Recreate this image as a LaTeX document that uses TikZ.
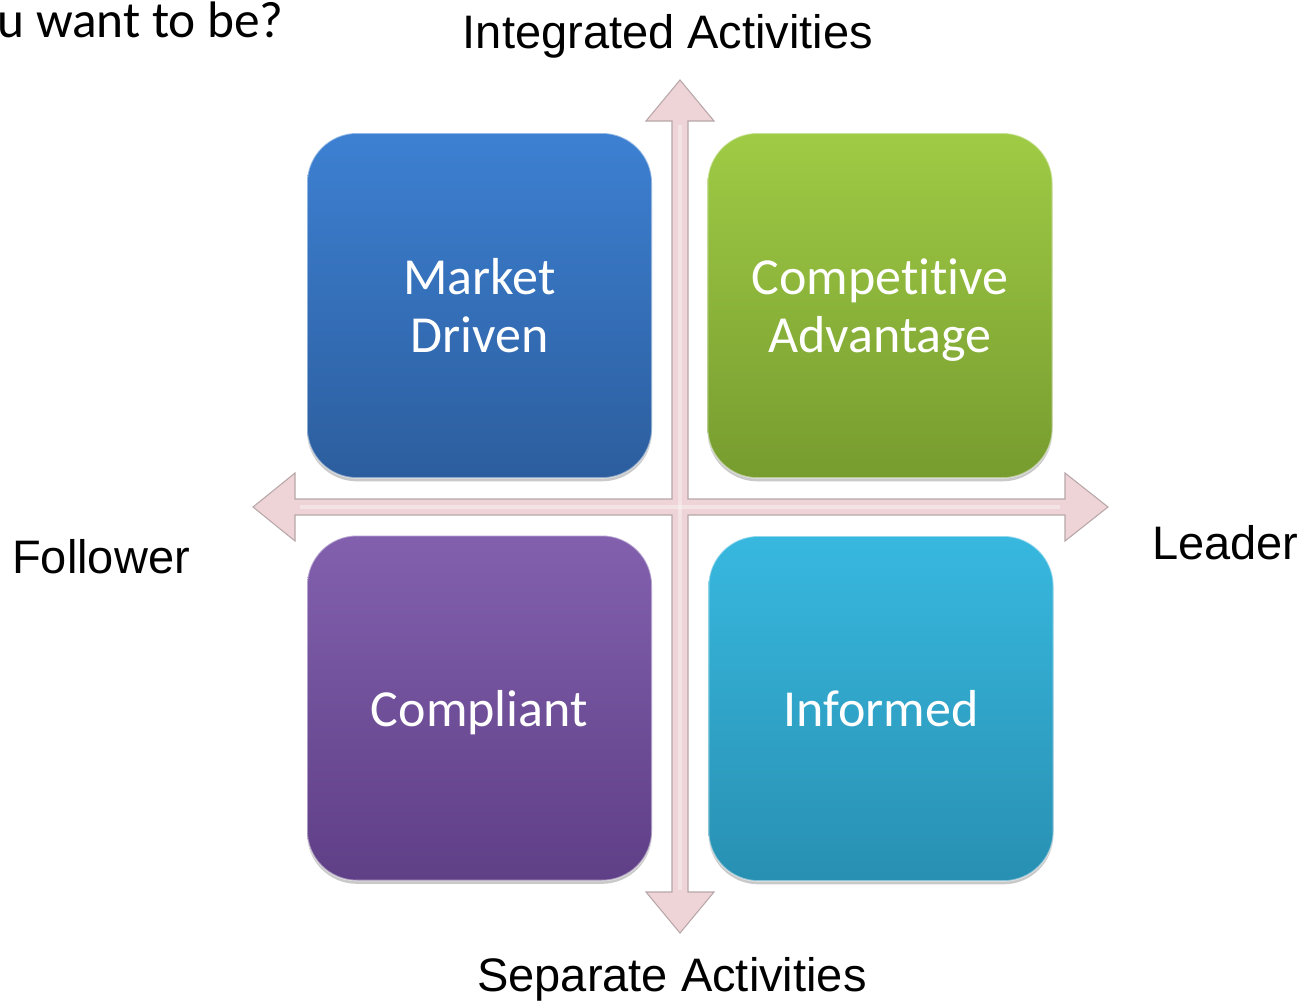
\documentclass[tikz,border=0pt]{standalone}
\usepackage{fontspec}
\setmainfont{Liberation Sans}
\newfontfamily\carl[Ligatures=NoCommon]{Carlito}
\usetikzlibrary{shadows}
\definecolor{bluetop}{HTML}{3D80D2}
\definecolor{bluebot}{HTML}{2C5E9E}
\definecolor{greentop}{HTML}{9FCB45}
\definecolor{greenbot}{HTML}{779C2F}
\definecolor{purptop}{HTML}{8260AE}
\definecolor{purpbot}{HTML}{5F3F86}
\definecolor{cyantop}{HTML}{38B8DF}
\definecolor{cyanbot}{HTML}{2890B2}
\definecolor{arrfill}{HTML}{EFD4D7}
\definecolor{arrline}{HTML}{B7A7A9}
\tikzset{
  qbox/.style={rectangle, rounded corners=37.5pt, minimum width=258.75pt, minimum height=258.75pt,
    inner sep=0pt, align=center, text=white, font=\carl\fontsize{39}{43.5}\selectfont,
    text depth=0pt,
    draw=white, draw opacity=0.45, line width=1.2pt,
    drop shadow={shadow xshift=0pt, shadow yshift=-2.5pt, opacity=0.35, fill=black!60}},
  axlabel/.style={font=\fontsize{35.25}{40}\selectfont, text=black, inner sep=0pt},
  crossarrow/.style={fill=arrfill, draw=arrline, line width=0.8pt, line join=miter}
}
\begin{document}
\begin{tikzpicture}[x=0.75pt, y=-0.75pt]
\useasboundingbox (0,0) rectangle (1303,1000);
\fill[white] (0,0) rectangle (1303,1000);
% axes cross
\draw[crossarrow] (680,80) -- (714,121) -- (688,121) -- (688,499) -- (1065,499) -- (1065,473)
  -- (1108,507) -- (1065,541) -- (1065,515) -- (688,515) -- (688,892) -- (714,892)
  -- (680,933) -- (646,892) -- (672,892) -- (672,515) -- (295,515) -- (295,541)
  -- (253,507) -- (295,473) -- (295,499) -- (672,499) -- (672,121) -- (646,121) -- cycle;
% subtle highlight along shafts
\fill[white, opacity=0.35] (678,125) rectangle (682,890);
\fill[white, opacity=0.35] (300,505) rectangle (1060,509);
% quadrant boxes
\node[qbox, top color=bluetop, bottom color=bluebot] (md) at (479.5,305.5) {Market\\Driven};
\node[qbox, top color=greentop, bottom color=greenbot] (ca) at (880,305.5) {Competitive\\Advantage};
\node[qbox, top color=purptop, bottom color=purpbot] (co) at (479.5,708) {Compliant};
\node[qbox, top color=cyantop, bottom color=cyanbot] (in) at (881,708.5) {Informed};
% labels
\node[axlabel, anchor=base] (top) at (668,48) {Integrated Activities};
\node[axlabel, anchor=base] (bot) at (672,991) {Separate Activities};
\node[axlabel, anchor=base west] (fol) at (12,573) {Follower};
\node[axlabel, anchor=base west] (lea) at (1152,559) {Leader};
\node[anchor=base east, inner sep=0pt, font=\carl\fontsize{38.5}{42}\selectfont] (q) at (284,37) {u want to be?};
\end{tikzpicture}
\end{document}
